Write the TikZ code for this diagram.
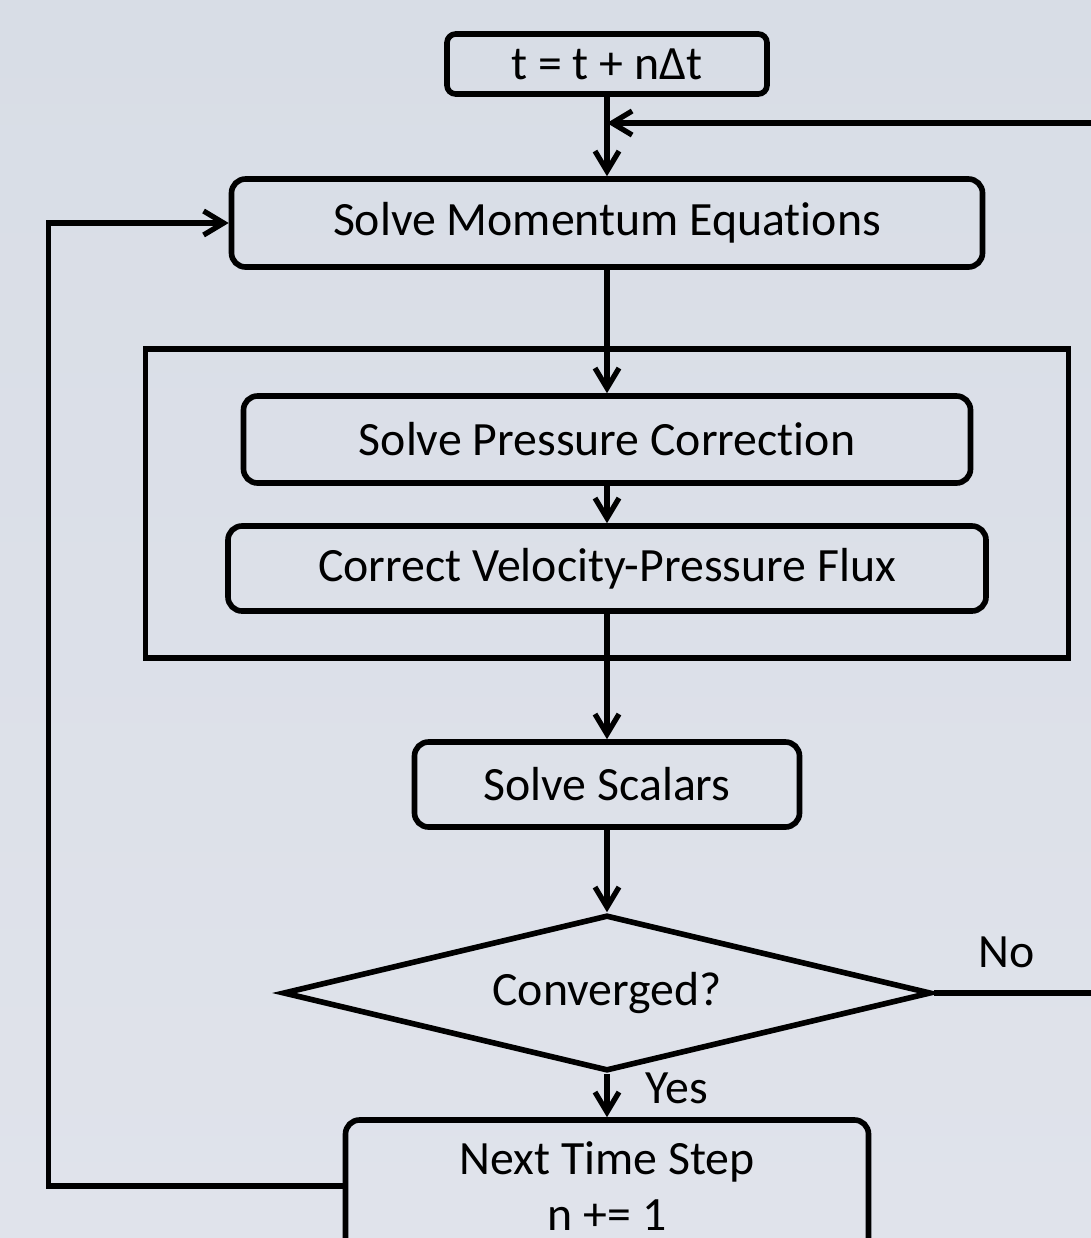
\documentclass[tikz,border=0pt]{standalone}
\usepackage{fontspec}
\setmainfont[Ligatures=NoCommon]{Carlito}
\usetikzlibrary{arrows.meta,shapes.geometric}
\definecolor{bgtop}{RGB}{216,221,230}
\definecolor{bgbot}{RGB}{224,227,235}

\begin{document}
\begin{tikzpicture}[
    x=1cm,y=1cm,
    every node/.style={font=\fontsize{13.6}{16}\selectfont},
    box/.style={draw=black, line width=1.6pt, rounded corners=4pt, inner sep=0pt},
    decision/.style={diamond, aspect=4.15, draw=black, line width=1.6pt, inner sep=0pt,
        minimum width=6.48cm, minimum height=1.56cm},
    frame/.style={draw=black, line width=1.5pt, inner sep=0pt},
    flow/.style={line width=1.5pt, -{Straight Barb[length=2mm,width=2.4mm]}}
]
    \useasboundingbox (0,0) rectangle (10.91,-12.38);
    \clip (0,0) rectangle (10.91,-12.38);
    \shade[top color=bgtop, bottom color=bgbot] (0,0) rectangle (10.91,-12.38);

    % main column
    \node[box, rounded corners=2.5pt, minimum width=3.2cm, minimum height=0.60cm] (time) at (6.07,-0.64) {t = t + nΔt};
    \node[box, minimum width=7.51cm, minimum height=0.88cm] (mom) at (6.07,-2.23) {Solve Momentum Equations};
    \node[frame, minimum width=9.23cm, minimum height=3.09cm] (piso) at (6.07,-5.035) {};
    \node[box, minimum width=7.27cm, minimum height=0.87cm] (pres) at (6.07,-4.395) {Solve Pressure Correction};
    \node[box, minimum width=7.58cm, minimum height=0.85cm] (corr) at (6.07,-5.685) {Correct Velocity-Pressure Flux};
    \node[box, minimum width=3.85cm, minimum height=0.85cm] (scal) at (6.07,-7.845) {Solve Scalars};
    \node[decision] (conv) at (6.07,-9.93) {Converged?};
    \node[box, minimum width=5.23cm, minimum height=1.32cm, align=center] (next) at (6.07,-11.86) {Next Time Step\\n += 1};

    \node (no) at (10.07,-9.52) {No};
    \node[anchor=west] (yes) at (6.33,-10.88) {Yes};

    \coordinate (merge) at (6.07,-1.23);

    % connectors
    \draw[flow] (time.south) -- (mom.north);
    \draw[flow] (mom.south) -- (pres.north);
    \draw[flow] (pres.south) -- (corr.north);
    \draw[flow] (corr.south) -- (scal.north);
    \draw[flow] (scal.south) -- (conv.north);
    \draw[flow] (conv.south) -- (next.north);
    \draw[flow] (conv.east) -- ++(3,0) |- (merge);
    \draw[flow] (next.west) -- ++(-2.94,0) |- (mom.west);
\end{tikzpicture}
\end{document}
